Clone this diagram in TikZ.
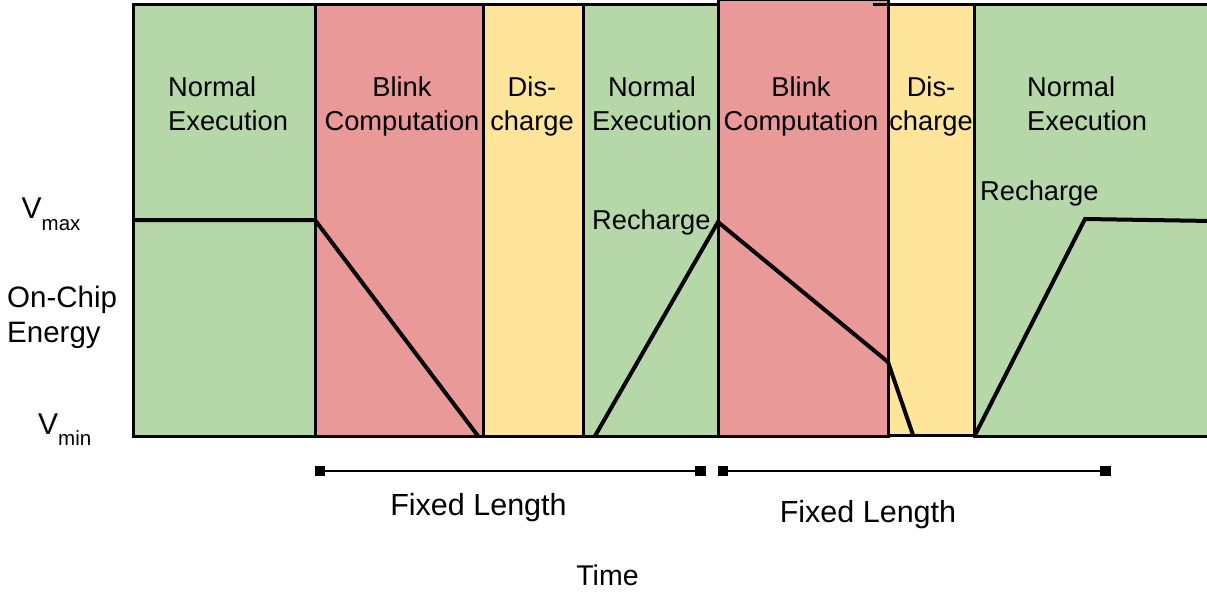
\documentclass[tikz,border=0pt]{standalone}
\usepackage{fontspec}
\setmainfont{Liberation Sans}
\definecolor{phgreen}{HTML}{B6D7A8}
\definecolor{phred}{HTML}{EA9999}
\definecolor{phyellow}{HTML}{FFE599}
\begin{document}
\begin{tikzpicture}[x=1pt,y=-1pt,
  phase/.style={draw=black,line width=3pt,line join=miter},
  energy/.style={line width=4pt,line join=miter,line cap=butt},
  collabel/.style={inner sep=0pt,font=\fontsize{27.3}{34}\selectfont},
  sidelabel/.style={inner sep=0pt,font=\fontsize{29.5}{35}\selectfont},
  bottomlabel/.style={inner sep=0pt,anchor=base,font=\fontsize{30.5}{36}\selectfont},
  endsq/.style={fill=black,minimum size=10.5pt,inner sep=0pt,rectangle},
  dimline/.style={line width=2pt}]
\useasboundingbox (0,0) rectangle (1207,594);
\clip (0,0) rectangle (1207,594);

% phase blocks along the time axis
\filldraw[phase,fill=phgreen]  (133.5,5) rectangle (315,436);
\filldraw[phase,fill=phred]    (315,5) rectangle (483.5,436);
\filldraw[phase,fill=phyellow] (483.5,5) rectangle (583,436);
\filldraw[phase,fill=phgreen]  (583,5) rectangle (718,436);
\filldraw[phase,fill=phred]    (718,0) rectangle (888,436);
\filldraw[phase,fill=phyellow] (888,4.5) rectangle (974,435);
\draw[phase] (873,4.5) -- (888,4.5);
\filldraw[phase,fill=phgreen]  (974,4.5) rectangle (1216,436);

% on-chip energy trace
\coordinate (e0) at (133.5,220);
\coordinate (e1) at (315,220);
\coordinate (e2) at (478,436);
\coordinate (e3) at (595,436);
\coordinate (e4) at (718,222);
\coordinate (e5) at (888,362);
\coordinate (e6) at (913,435);
\coordinate (e7) at (975,435);
\coordinate (e8) at (1085,219);
\coordinate (e9) at (1212,221);
\draw[energy] (e0) -- (e1) -- (e2);
\draw[energy] (e3) -- (e4) -- (e5) -- (e6);
\draw[energy] (e7) -- (e8) -- (e9);

% phase names
\node[collabel,anchor=north west,align=left] (ne1) at (168,77) {Normal\\Execution};
\node[collabel,anchor=north,align=center] (bc1) at (402,77) {Blink\\Computation};
\node[collabel,anchor=north,align=center] (dc1) at (532,77) {Dis-\\charge};
\node[collabel,anchor=north,align=center] (ne2) at (652,77) {Normal\\Execution};
\node[collabel,anchor=north,align=center] (bc2) at (801,77) {Blink\\Computation};
\node[collabel,anchor=north,align=center] (dc2) at (931,77) {Dis-\\charge};
\node[collabel,anchor=north west,align=left] (ne3) at (1027,77) {Normal\\Execution};
\node[collabel,anchor=base west] (rc1) at (592,229) {Recharge};
\node[collabel,anchor=base west] (rc2) at (980,200) {Recharge};

% vertical axis labels
\node[inner sep=0pt,anchor=base west,font=\fontsize{30}{36}\selectfont] (vmax) at (21.5,218)
  {V\raisebox{-12pt}{\fontsize{20.5}{24}\selectfont max}};
\node[inner sep=0pt,anchor=base west,font=\fontsize{30}{36}\selectfont] (vmin) at (38,434)
  {V\raisebox{-11pt}{\fontsize{20.5}{24}\selectfont min}};
\node[sidelabel,anchor=north west,align=left] (ylab) at (7,286) {On-Chip\\Energy};

% fixed-length spans
\node[endsq] (s1a) at (320,471) {};
\node[endsq] (s1b) at (700.5,471) {};
\node[endsq] (s2a) at (723,471) {};
\node[endsq] (s2b) at (1105.5,471) {};
\draw[dimline] (s1a) -- (s1b);
\draw[dimline] (s2a) -- (s2b);
\node[bottomlabel] (fl1) at (478.5,515) {Fixed Length};
\node[bottomlabel] (fl2) at (868,522) {Fixed Length};
\node[bottomlabel,font=\fontsize{28.5}{34}\selectfont] (tlab) at (607.5,585) {Time};
\end{tikzpicture}
\end{document}
